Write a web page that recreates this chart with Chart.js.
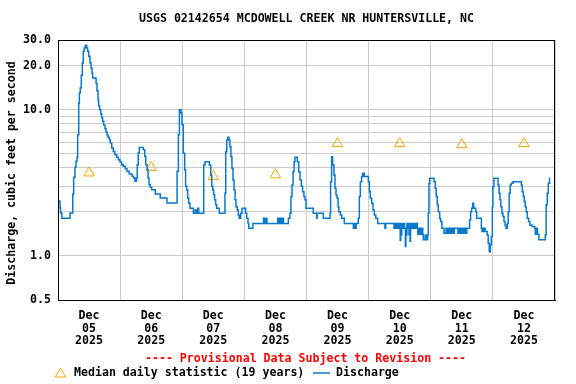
<!DOCTYPE html>
<html>
<head>
<meta charset="utf-8">
<script src="https://cdn.jsdelivr.net/npm/chart.js@4.4.1/dist/chart.umd.min.js"></script>
<style>
    html, body { margin: 0; padding: 0; background: #ffffff; }
    #wrap { width: 576px; height: 384px; }
</style>
</head>
<body>
<div id="wrap"><canvas id="flowChart" width="576" height="384"></canvas></div>
<script>
// Station / labels
const stationTitle = 'USGS 02142654 MCDOWELL CREEK NR HUNTERSVILLE, NC';
const yAxisTitle = 'Discharge, cubic feet per second';
const provisionalNote = '---- Provisional Data Subject to Revision ----';
const medianLabel = 'Median daily statistic (19 years)';
const dischargeLabel = 'Discharge';

// X axis: one column per day, labelled Dec / dd / 2025
const monthLabel = 'Dec';
const yearLabel = '2025';
const dayLabels = ['05', '06', '07', '08', '09', '10', '11', '12'];

// Y axis (log): grid lines and the ones that get a label
const yGridValues = [0.5, 1, 2, 3, 4, 5, 6, 7, 8, 9, 10, 20, 30];
const yLabelValues = [0.5, 1, 10, 20, 30];

// Median daily statistic, one per day (cfs, plotted at noon)
const medianCfs = [3.70, 4.03, 3.50, 3.59, 5.87, 5.87, 5.77, 5.87];

// Discharge readings per day: [hour of day, cfs]
const dec05 = [
    [0, 2.40], [0.3, 2.37], [0.8, 2.13], [1.0, 1.97], [1.5, 1.81], [4.65, 1.97],
    [5.7, 2.65], [6.05, 3.45], [6.55, 4.04], [6.95, 4.44], [7.35, 4.73], [7.6, 6.76],
    [8.0, 11.1], [8.25, 13.0], [8.6, 14.1], [9.0, 17.2], [9.4, 20.9], [9.75, 25.1],
    [10.15, 26.5], [10.55, 27.6], [11.1, 26.5], [11.45, 25.1], [11.85, 23.2], [12.35, 20.9],
    [12.75, 19.3], [13.15, 17.8], [13.4, 16.5], [14.7, 15.2], [15.05, 13.5], [15.45, 11.7],
    [15.7, 10.6], [16.1, 10.0], [16.5, 9.36], [16.9, 8.79], [17.25, 8.34], [17.65, 7.83],
    [18.15, 7.43], [18.55, 7.05], [18.95, 6.76], [19.3, 6.49], [19.8, 6.25], [20.2, 5.92],
    [20.75, 5.47], [21.35, 5.19], [22.0, 4.93], [22.7, 4.73], [23.3, 4.56], [23.95, 4.40]
];
const dec06 = [
    [0.6, 4.21], [1.2, 4.11], [2.0, 3.95], [2.65, 3.80], [3.5, 3.63], [4.6, 3.51],
    [5.2, 3.42], [5.75, 3.24], [6.3, 3.42], [6.6, 4.21], [7.0, 5.08], [7.4, 5.53],
    [8.95, 5.33], [9.5, 4.81], [9.9, 4.21], [10.4, 3.89], [10.8, 3.42], [11.15, 3.07],
    [11.65, 2.95], [12.2, 2.84], [13.6, 2.65], [15.5, 2.49], [18.1, 2.30], [22.0, 3.80],
    [22.5, 6.76], [22.9, 10.0], [23.5, 9.50], [23.9, 7.91]
];
const dec07 = [
    [0.4, 5.05], [0.95, 3.87], [1.3, 3.00], [1.7, 2.83], [2.1, 2.48], [2.5, 2.29],
    [3.0, 2.12], [4.3, 1.96], [5.0, 2.06], [5.6, 1.96], [5.95, 2.12], [6.35, 1.96],
    [8.3, 4.19], [8.8, 4.41], [10.45, 4.19], [11.0, 3.58], [11.4, 3.00], [11.8, 2.83],
    [12.15, 2.61], [12.5, 2.42], [12.9, 2.24], [13.3, 2.12], [14.3, 1.96], [16.5, 2.69],
    [16.8, 5.16], [17.2, 6.22], [17.55, 6.49], [18.05, 6.22], [18.4, 5.58], [18.8, 4.77],
    [19.2, 3.98], [19.6, 3.31], [20.0, 2.83], [20.4, 2.42], [20.75, 2.17], [21.25, 2.06],
    [21.65, 1.91], [22.0, 1.81], [22.6, 1.96], [23.1, 2.12]
];
const dec08 = [
    [0.5, 1.96], [0.9, 1.81], [1.4, 1.67], [1.7, 1.55], [3.3, 1.67],
    [7.4, 1.81], [7.6, 1.67], [7.9, 1.81], [8.2, 1.67], [8.5, 1.81], [8.7, 1.67],
    [12.9, 1.81], [13.1, 1.67], [13.3, 1.81], [13.5, 1.67], [13.7, 1.81], [13.9, 1.67],
    [14.1, 1.81], [14.3, 1.67], [14.5, 1.81], [14.7, 1.67], [14.9, 1.81], [15.1, 1.67],
    [17.0, 1.81], [17.6, 1.96], [18.0, 2.55], [18.4, 3.06], [18.8, 3.77], [19.2, 4.41],
    [19.55, 4.73], [20.45, 4.41], [21.0, 3.77], [21.5, 3.31], [22.0, 3.00], [22.5, 2.75],
    [23.0, 2.55], [23.4, 2.42], [23.8, 2.12]
];
const dec09 = [
    [2.6, 1.96], [3.9, 1.81], [4.1, 1.96], [6.5, 1.81], [9.1, 1.96], [9.3, 3.22],
    [9.7, 4.77], [10.1, 4.19], [10.6, 3.58], [11.0, 2.90], [11.4, 2.61], [11.8, 2.48],
    [12.2, 2.17], [12.5, 2.01], [13.05, 1.91], [13.6, 1.81], [14.6, 1.67],
    [18.1, 1.55], [18.3, 1.67], [18.5, 1.55], [18.7, 1.67], [19.0, 1.55], [19.2, 1.67],
    [20.0, 1.81], [20.4, 2.55], [20.8, 3.22], [21.3, 3.49], [21.7, 3.68], [22.3, 3.49],
    [23.9, 3.22]
];
const dec10 = [
    [0.3, 2.75], [0.65, 2.48], [1.2, 2.29], [1.7, 2.06], [2.2, 1.91], [2.75, 1.81],
    [3.5, 1.67], [6.3, 1.55], [6.6, 1.67],
    [9.8, 1.55], [10.0, 1.67], [10.2, 1.55], [10.4, 1.67], [10.6, 1.55], [10.8, 1.67],
    [11.0, 1.55], [11.2, 1.67], [11.4, 1.55], [11.6, 1.67], [11.8, 1.55], [12.0, 1.67],
    [12.2, 1.28], [12.4, 1.55], [12.6, 1.39], [12.8, 1.67], [13.0, 1.55], [13.2, 1.67],
    [13.4, 1.55], [13.7, 1.67], [13.9, 1.55], [14.2, 1.16], [14.4, 1.55], [14.6, 1.39],
    [14.8, 1.67], [15.0, 1.55], [15.3, 1.67], [15.6, 1.39], [15.8, 1.55], [16.0, 1.26],
    [16.2, 1.67], [16.4, 1.55], [16.7, 1.67], [17.0, 1.55], [17.3, 1.67], [17.6, 1.55],
    [18.0, 1.67], [18.3, 1.55], [18.6, 1.67], [18.8, 1.55], [19.0, 1.41], [19.3, 1.55],
    [19.6, 1.41], [19.9, 1.55], [20.2, 1.41], [20.5, 1.55], [20.9, 1.41], [21.1, 1.29],
    [21.8, 1.39], [22.2, 1.29], [22.8, 1.39], [23.05, 1.96], [23.3, 3.14], [23.6, 3.40]
];
const dec11 = [
    [1.25, 3.22], [1.75, 2.90], [2.1, 2.55], [2.5, 2.24], [2.9, 2.01], [3.45, 1.81],
    [3.8, 1.72], [4.3, 1.55], [5.1, 1.43], [5.9, 1.55],
    [6.1, 1.43], [6.3, 1.55], [6.5, 1.43], [6.7, 1.55], [6.9, 1.43], [7.1, 1.55],
    [7.3, 1.43], [7.5, 1.55], [7.7, 1.43], [7.9, 1.55], [8.1, 1.43], [8.3, 1.55],
    [8.5, 1.43], [8.7, 1.55], [8.9, 1.43], [9.1, 1.55],
    [10.5, 1.43], [10.7, 1.55], [10.9, 1.43], [11.1, 1.55], [11.3, 1.43], [11.5, 1.55],
    [11.7, 1.43], [11.9, 1.55], [12.1, 1.43], [12.3, 1.55], [12.5, 1.43], [12.7, 1.55],
    [12.9, 1.43], [13.1, 1.55], [13.3, 1.43], [13.5, 1.55], [13.7, 1.43], [13.9, 1.55],
    [15.0, 1.76], [15.4, 2.01], [15.8, 2.12], [16.2, 2.29], [16.6, 2.12], [17.4, 2.01],
    [17.75, 1.81], [19.55, 1.55], [19.8, 1.47], [20.0, 1.55], [20.2, 1.47], [20.4, 1.55],
    [20.6, 1.47], [20.8, 1.55], [21.0, 1.47], [21.8, 1.39], [22.2, 1.22], [22.6, 1.07],
    [23.0, 1.19], [23.4, 1.36], [23.8, 2.17]
];
const dec12 = [
    [0.0, 2.97], [0.4, 3.40], [2.0, 3.06], [2.4, 2.69], [2.75, 2.42], [3.1, 2.17],
    [3.5, 1.96], [3.9, 1.86], [4.3, 1.72], [4.7, 1.63], [5.1, 1.55], [5.6, 1.67],
    [5.9, 2.01], [6.3, 2.69], [6.7, 3.06], [7.1, 3.14], [7.8, 3.22], [11.0, 3.06],
    [11.35, 2.75], [11.75, 2.55], [12.1, 2.36], [12.5, 2.17], [12.9, 2.01], [13.3, 1.81],
    [13.8, 1.72], [14.3, 1.63], [15.1, 1.59], [16.15, 1.55], [16.4, 1.41], [16.6, 1.55],
    [16.8, 1.41], [17.0, 1.55], [17.2, 1.41], [17.8, 1.29], [20.25, 1.39], [20.6, 2.24],
    [21.0, 2.69], [21.4, 3.14], [21.9, 3.40], [22.1, 3.40]
];
const dischargeByDay = [dec05, dec06, dec07, dec08, dec09, dec10, dec11, dec12];

// Colors
const colors = {
    discharge: '#0a78cc',
    median: '#ffa500',
    grid: '#cccccc',
    note: '#ff0000',
    text: '#000000'
};
const FONT = '"DejaVu Sans Mono", monospace';
const FONT_SIZE = 11.6;

// Build chart points from the daily tables
const dischargePoints = [];
dischargeByDay.forEach((day, i) => {
    day.forEach(([hour, cfs]) => dischargePoints.push({ x: i * 24 + hour, y: cfs }));
});
const medianPoints = medianCfs.map((cfs, i) => ({ x: i * 24 + 12, y: cfs }));
const totalHours = dayLabels.length * 24;
const xTickHours = [];
for (let h = 0; h <= totalHours; h += 12) xTickHours.push(h);

Chart.defaults.font.family = FONT;
Chart.defaults.font.size = FONT_SIZE;
Chart.defaults.font.weight = 'bold';
Chart.defaults.color = colors.text;

function drawTriangle(ctx, x, y, r) {
    ctx.beginPath();
    for (let k = 0; k < 3; k++) {
        const a = k * 2 * Math.PI / 3;
        const px = x + Math.sin(a) * r;
        const py = y - Math.cos(a) * r;
        if (k === 0) ctx.moveTo(px, py); else ctx.lineTo(px, py);
    }
    ctx.closePath();
    ctx.stroke();
}

// Titles, frame and legend are drawn on top of the chart
const decorations = {
    id: 'decorations',
    afterDraw(chart) {
        const { ctx, chartArea } = chart;
        const { left, right, top, bottom } = chartArea;
        const midX = (left + right) / 2;
        ctx.save();

        ctx.strokeStyle = '#000000';
        ctx.lineWidth = 1;
        ctx.strokeRect(left + 0.5, top + 0.5, right - left - 1, bottom - top);

        ctx.font = 'bold ' + FONT_SIZE + 'px ' + FONT;
        ctx.textBaseline = 'middle';
        ctx.fillStyle = colors.text;
        ctx.textAlign = 'center';
        ctx.fillText(stationTitle, midX, 19);

        ctx.save();
        ctx.translate(12, (top + bottom) / 2 + 3);
        ctx.rotate(-Math.PI / 2);
        ctx.fillText(yAxisTitle, 0, 0);
        ctx.restore();

        ctx.fillStyle = colors.note;
        ctx.fillText(provisionalNote, midX - 1, 359);

        // legend
        const ly = 373;
        ctx.strokeStyle = colors.median;
        ctx.lineWidth = 1;
        drawTriangle(ctx, 60.5, ly + 1, 6);
        ctx.fillStyle = colors.text;
        ctx.textAlign = 'left';
        ctx.fillText(medianLabel, 74, ly);
        ctx.strokeStyle = colors.discharge;
        ctx.lineWidth = 1.5;
        ctx.beginPath();
        ctx.moveTo(313, ly);
        ctx.lineTo(330, ly);
        ctx.stroke();
        ctx.fillText(dischargeLabel, 336, ly);

        ctx.restore();
    }
};

new Chart(document.getElementById('flowChart'), {
    type: 'line',
    data: {
        datasets: [
            {
                label: dischargeLabel,
                data: dischargePoints,
                borderColor: colors.discharge,
                borderWidth: 1.5,
                pointRadius: 0,
                stepped: true,
                fill: false
            },
            {
                label: medianLabel,
                data: medianPoints,
                showLine: false,
                pointStyle: 'triangle',
                pointRadius: 6,
                pointBorderWidth: 1,
                pointBorderColor: colors.median,
                pointBackgroundColor: 'rgba(0,0,0,0)'
            }
        ]
    },
    options: {
        responsive: false,
        animation: false,
        devicePixelRatio: 1,
        layout: { padding: { top: 40, right: 21, left: 0, bottom: 0 } },
        plugins: {
            legend: { display: false },
            title: { display: false },
            tooltip: { enabled: false }
        },
        scales: {
            x: {
                type: 'linear',
                min: 0,
                max: totalHours,
                afterBuildTicks: axis => {
                    axis.ticks = xTickHours.map(v => ({ value: v }));
                },
                afterFit: axis => { axis.height = 84; },
                ticks: {
                    autoSkip: false,
                    maxRotation: 0,
                    minRotation: 0,
                    padding: 9,
                    font: { lineHeight: 1.12 },
                    callback: value => value % 24 === 12
                        ? [monthLabel, dayLabels[(value - 12) / 24], yearLabel]
                        : ''
                },
                grid: {
                    color: c => (c.tick && c.tick.value % 24 === 0) ? colors.grid : 'rgba(0,0,0,0)',
                    drawTicks: false
                },
                border: { color: '#000000' }
            },
            y: {
                type: 'logarithmic',
                min: 0.5,
                max: 30,
                afterBuildTicks: axis => {
                    axis.ticks = yGridValues.map(v => ({ value: v }));
                },
                afterFit: axis => { axis.width = 58; },
                ticks: {
                    padding: 7,
                    callback: value => yLabelValues.includes(value) ? value.toFixed(1) : ''
                },
                grid: { color: colors.grid, drawTicks: false },
                border: { color: '#000000' }
            }
        }
    },
    plugins: [decorations]
});
</script>
</body>
</html>
